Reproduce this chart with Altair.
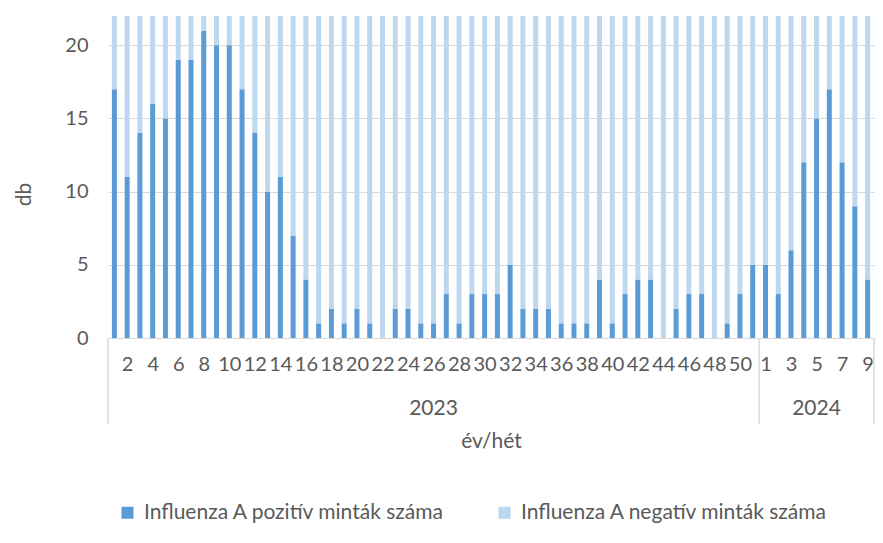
import altair as alt
import pandas as pd

FONT = "Lato"
TXT = "#595959"
GRID = "#D9D9D9"

years = ["2023", "2024"]
weeks_2023 = list(range(1, 52))
weeks_2024 = list(range(1, 10))
positive_2023 = [17, 11, 14, 16, 15, 19, 19, 21, 20, 20,
                 17, 14, 10, 11, 7, 4, 1, 2, 1, 2,
                 1, 0, 2, 2, 1, 1, 3, 1, 3, 3,
                 3, 5, 2, 2, 2, 1, 1, 1, 4, 1,
                 3, 4, 4, 0, 2, 3, 3, 0, 1, 3,
                 5]
positive_2024 = [5, 3, 6, 12, 15, 17, 12, 9, 4]
# negative counts run beyond the top of the axis (clipped at 22) in the reference
negative_2023 = [40, 42, 38, 45, 41, 44, 39, 43, 40, 41,
                 38, 36, 37, 35, 39, 34, 36, 33, 35, 34,
                 32, 30, 31, 33, 30, 32, 31, 29, 30, 31,
                 33, 32, 30, 31, 29, 30, 28, 31, 32, 30,
                 33, 31, 34, 32, 35, 33, 36, 30, 34, 37,
                 38]
negative_2024 = [40, 39, 42, 41, 43, 44, 40, 39, 38]

pos_name = "Influenza A pozitív minták száma"
neg_name = "Influenza A negatív minták száma"

week_lists = [weeks_2023, weeks_2024]
pos_lists = [positive_2023, positive_2024]
neg_lists = [negative_2023, negative_2024]

rows = []
labels = []
label_idx = []
year_rows = []
boundaries = [-0.5]
idx = 0
for y, wk, pos, neg in zip(years, week_lists, pos_lists, neg_lists):
    start = idx
    for w, p, n in zip(wk, pos, neg):
        rows.append({"idx": idx, "year": y, "week": w, "series": pos_name, "ord": 0, "value": p})
        rows.append({"idx": idx, "year": y, "week": w, "series": neg_name, "ord": 1, "value": n})
        show = (w % 2 == 0) if y == "2023" else (w % 2 == 1)
        labels.append(str(w))
        if show:
            label_idx.append(idx)
        idx += 1
    year_rows.append({"year": y, "center": (start + idx - 1) / 2})
    boundaries.append(idx - 0.5)

n_total = idx
df = pd.DataFrame(rows)
df_years = pd.DataFrame(year_rows)
df_bounds = pd.DataFrame({"b": boundaries})

label_expr = "[" + ",".join("'" + s + "'" for s in labels) + "][datum.value]"
xscale = alt.Scale(domain=[-0.5, n_total - 0.5], nice=False, zero=False, padding=0)

xaxis = alt.Axis(values=label_idx, labelExpr=label_expr, grid=False, ticks=False,
                 tickSize=0, domainColor=GRID, domainWidth=1,
                 labelFontSize=20, labelColor=TXT, labelFont=FONT, labelPadding=16,
                 labelOverlap=False, labelFlush=False, labelBaseline="top",
                 title="év/hét", titleFontSize=21, titleFont=FONT,
                 titleFontWeight="normal", titleColor=TXT,
                 titleY=103, titleBaseline="middle")

bars = alt.Chart(df).mark_bar(size=5, clip=True).encode(
    x=alt.X("idx:Q", scale=xscale, axis=xaxis),
    y=alt.Y("value:Q", stack="zero", scale=alt.Scale(domain=[0, 22], nice=False),
            axis=alt.Axis(values=[0, 5, 10, 15, 20], grid=True, gridColor=GRID, gridWidth=1,
                          domain=False, ticks=False, tickSize=0, labelPadding=20,
                          labelFontSize=20, labelColor=TXT, labelFont=FONT,
                          title="db", titleFontSize=21, titleFont=FONT,
                          titleFontWeight="normal", titleColor=TXT,
                          titleX=-84, titleY=178, titleAlign="center", titleBaseline="middle")),
    color=alt.Color("series:N",
                    scale=alt.Scale(domain=[pos_name, neg_name], range=["#5B9BD5", "#BDD7EE"]),
                    legend=alt.Legend(orient="none", legendX=9, legendY=486, direction="horizontal",
                                      title=None, symbolType="square", symbolSize=144,
                                      symbolStrokeWidth=0, labelFontSize=21, labelFont=FONT,
                                      labelColor=TXT, labelOffset=6, labelLimit=0,
                                      columnPadding=49)),
    order=alt.Order("ord:Q"),
)

seps = alt.Chart(df_bounds).mark_rule(color=GRID, strokeWidth=1.5).encode(
    x=alt.X("b:Q", scale=xscale, axis=xaxis),
    y=alt.value(322),
    y2=alt.value(408),
)

year_text = alt.Chart(df_years).mark_text(fontSize=21, font=FONT, color=TXT, baseline="middle").encode(
    x=alt.X("center:Q", scale=xscale, axis=xaxis),
    y=alt.value(393),
    text="year:N",
)

chart = alt.layer(bars, seps, year_text).properties(
    width=766, height=322,
    padding={"left": 100, "top": 8, "right": 1, "bottom": 190},
    autosize="none",
).configure_view(stroke=None)

chart.save("out.html", embed_options={"renderer": "svg", "actions": False})
